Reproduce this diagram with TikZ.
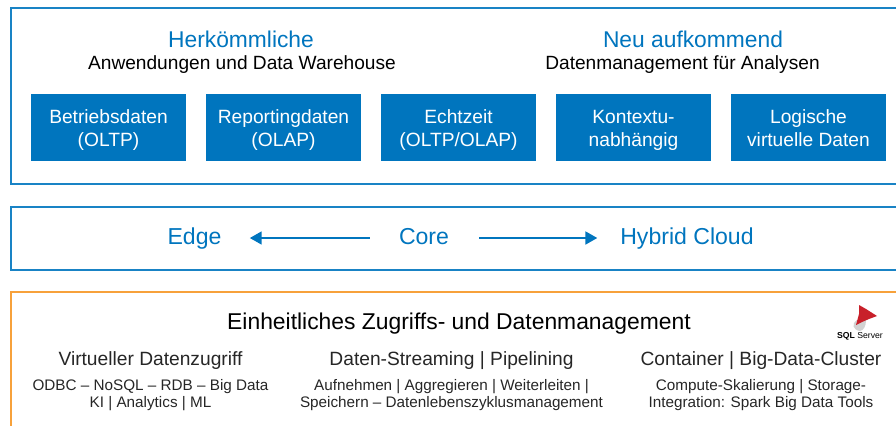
\documentclass[tikz,border=0pt]{standalone}
\usepackage{fontspec}
\setmainfont{Liberation Sans}
\usetikzlibrary{arrows.meta}
\definecolor{msblue}{HTML}{0075BE}
\definecolor{msorange}{HTML}{F7A13B}
\definecolor{sqlred}{HTML}{C8202A}
\definecolor{txtgray}{HTML}{262626}
\tikzset{
	panelbox/.style={draw=msblue!90,line width=1.5pt},
	orangeline/.style={draw=msorange,line width=1.5pt},
	tilebox/.style={fill=msblue,text=white,minimum width=116.25pt,minimum height=50.25pt,align=center,text depth=1.4pt,font=\fontsize{14.4}{17.2}\selectfont,inner sep=0pt},
	headblue/.style={anchor=base,text=msblue,font=\fontsize{17.1}{20}\selectfont,inner sep=0pt},
	headblack/.style={anchor=base,text=black,font=\fontsize{14.35}{16}\selectfont,inner sep=0pt},
	cloudlabel/.style={anchor=base,text=msblue,font=\fontsize{17.3}{20}\selectfont,inner sep=0pt},
	coltitle/.style={anchor=base,text=txtgray,font=\fontsize{14.4}{16}\selectfont,inner sep=0pt},
	coltext/.style={text=txtgray,align=center,font=\fontsize{11.45}{12.6}\selectfont,inner sep=0pt},
	flowarrow/.style={draw=msblue,line width=2pt,-{Triangle[length=9pt,width=9.5pt]}}
}
\begin{document}
\begin{tikzpicture}[x=0.75pt,y=-0.75pt]
	\useasboundingbox (0,0) rectangle (896,425);
	% Panels
	\draw[panelbox] (10.5,8) rectangle (900,183.5);
	\draw[panelbox] (10.5,206.5) rectangle (900,269.5);
	\draw[orangeline] (10.5,430) -- (10.5,292) -- (900,292);
	% Headings
	\node[headblue] (old) at (241,47) {Herkömmliche};
	\node[headblack] (oldsub) at (242,69) {Anwendungen und Data Warehouse};
	\node[headblue] (new) at (693,47) {Neu aufkommend};
	\node[headblack] (newsub) at (682.5,69) {Datenmanagement für Analysen};
	% Tiles
	\node[tilebox] (oltp) at (108.5,127.5) {\strut Betriebsdaten\\\strut(OLTP)};
	\node[tilebox] (olap) at (283.5,127.5) {\strut Reportingdaten\\\strut(OLAP)};
	\node[tilebox] (echt) at (458.5,127.5) {\strut Echtzeit\\\strut(OLTP/OLAP)};
	\node[tilebox] (kont) at (633.5,127.5) {\strut Kontextu-\\\strut nabhängig};
	\node[tilebox] (logi) at (808.5,127.5) {\strut Logische\\\strut virtuelle Daten};
	% Edge, core, cloud
	\node[cloudlabel] (edge) at (194.5,244) {Edge};
	\node[cloudlabel] (core) at (424,244) {Core};
	\node[cloudlabel] (cloud) at (687,244) {Hybrid Cloud};
	\coordinate (axis) at (0,238);
	\draw[flowarrow,shorten <=21.75pt,shorten >=21pt] (core.west |- axis) -- (edge.east |- axis);
	\draw[flowarrow,shorten <=22.5pt,shorten >=17pt] (core.east |- axis) -- (cloud.west |- axis);
	% Access and management
	\node[anchor=base,text=black,font=\fontsize{17.15}{20}\selectfont,inner sep=0pt] (title) at (459,329.5) {Einheitliches Zugriffs- und Datenmanagement};
	\node[coltitle] (virt) at (150.5,365.5) {Virtueller Datenzugriff};
	\node[coltitle] (stream) at (451.5,365.5) {Daten-Streaming | Pipelining};
	\node[coltitle] (cont) at (761,365.5) {Container | Big-Data-Cluster};
	\node[coltext] (virttext) at (150.5,396) {\strut ODBC – NoSQL – RDB – Big Data\\\strut KI | Analytics | ML};
	\node[coltext] (streamtext) at (451.5,396) {\strut Aufnehmen | Aggregieren | Weiterleiten |\\\strut Speichern – Datenlebenszyklusmanagement};
	\node[coltext] (conttext) at (761,396) {\strut Compute-Skalierung | Storage-\\\strut Integration: Spark Big Data Tools};
	% Logo
	\fill[gray!35] (857,320) .. controls (851,324) and (853,330) .. (860,331) .. controls (864,330) and (866,326) .. (866,320) -- cycle;
	\fill[sqlred] (859,305) -- (866,309) -- (877,316) -- (869,319) -- (862,322) -- (856,325) -- (859,314) -- cycle;
	\node[text=black,inner sep=0pt,font=\fontsize{6.5}{7}\selectfont] (sql) at (860,336) {\textbf{SQL} Server};
\end{tikzpicture}
\end{document}
